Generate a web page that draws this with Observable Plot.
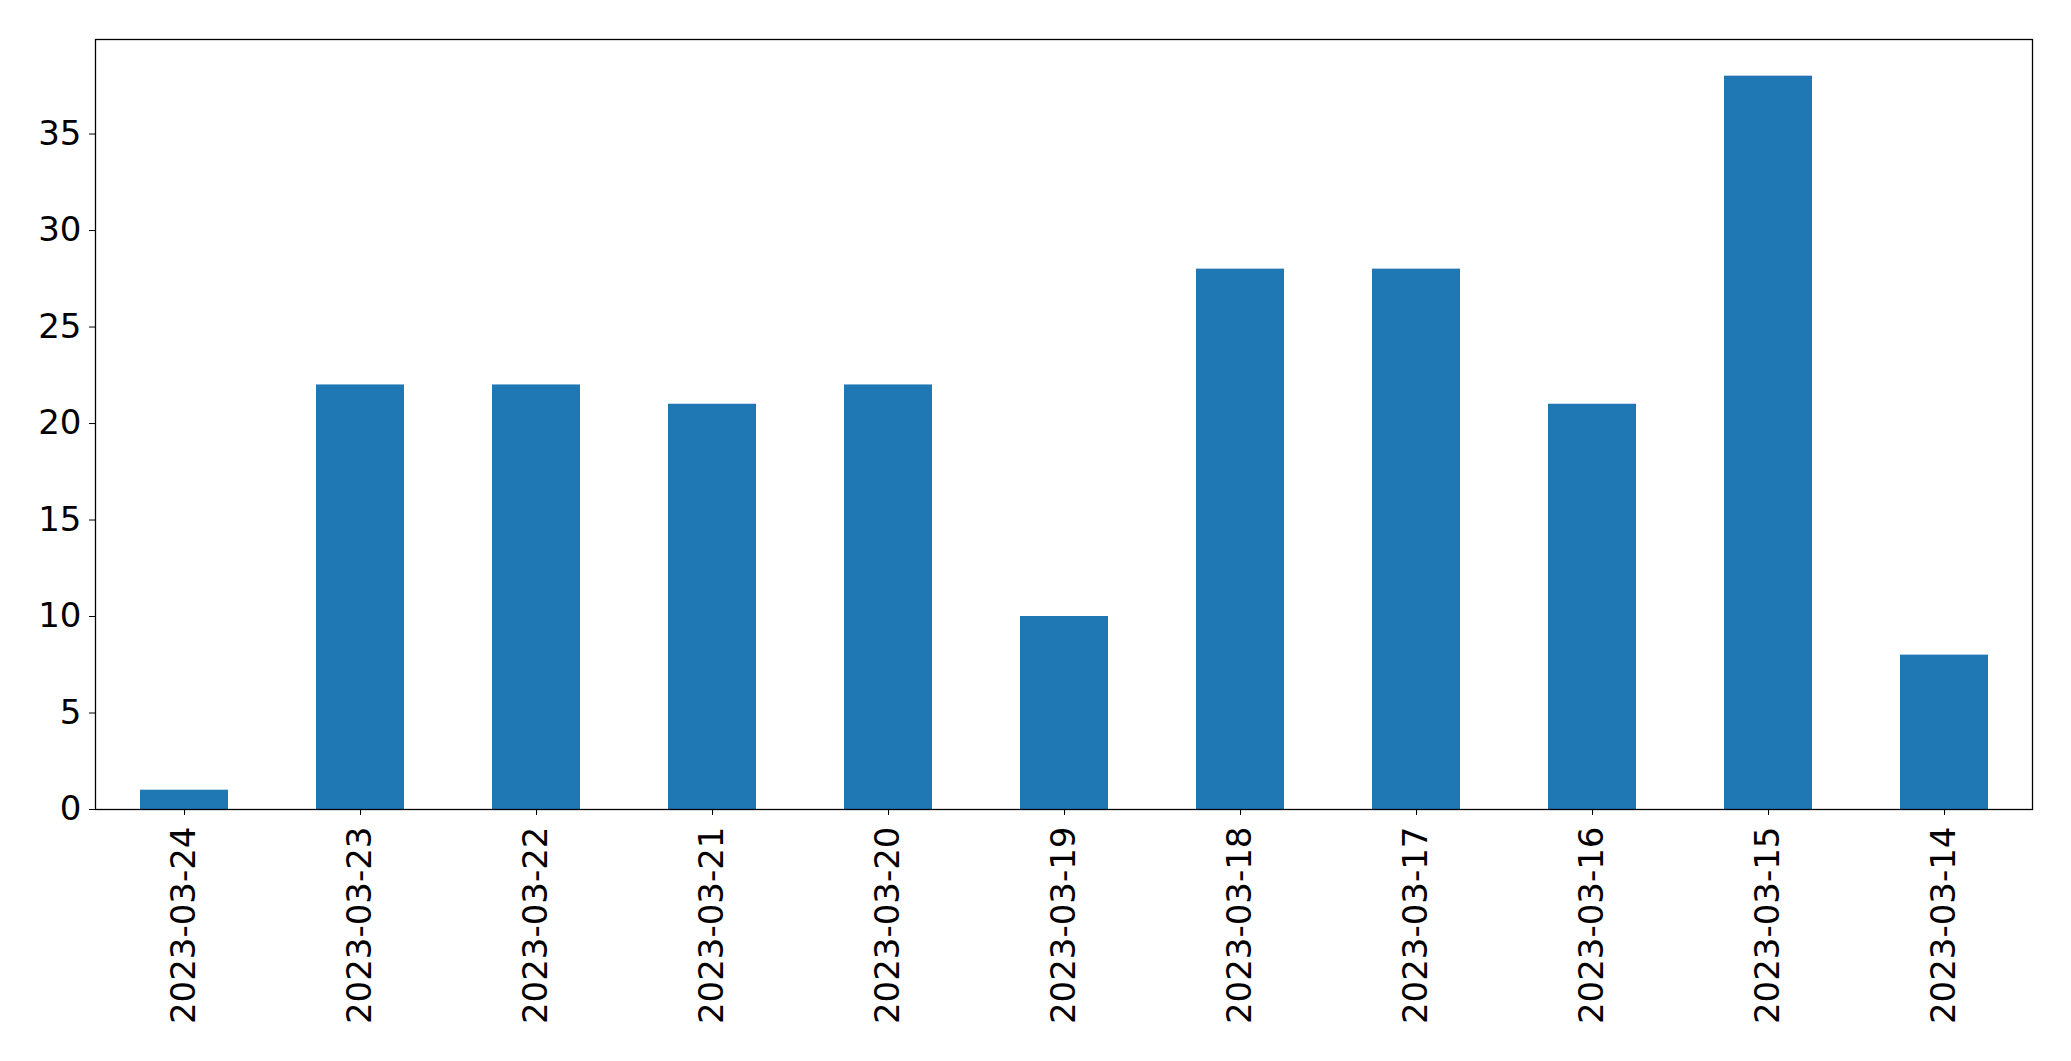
<!DOCTYPE html>
<html>
<head>
<meta charset="utf-8">
<script src="https://cdn.jsdelivr.net/npm/d3@7"></script>
<script src="https://cdn.jsdelivr.net/npm/@observablehq/plot@0.6"></script>
<style>
  html, body { margin: 0; padding: 0; background: #fff; }
  #chart svg { display: block; }
</style>
</head>
<body>
<div id="chart"></div>
<script>
const dates = ["2023-03-24", "2023-03-23", "2023-03-22", "2023-03-21", "2023-03-20", "2023-03-19", "2023-03-18", "2023-03-17", "2023-03-16", "2023-03-15", "2023-03-14"];
const counts = [1, 22, 22, 21, 22, 10, 28, 28, 21, 38, 8];
const yTicks = [0, 5, 10, 15, 20, 25, 30, 35];

const data = dates.map((d, i) => ({date: d, count: counts[i]}));

const chart = Plot.plot({
  width: 2071,
  height: 1061,
  marginLeft: 95,
  marginRight: 39,
  marginTop: 39,
  marginBottom: 252,
  style: {fontFamily: "DejaVu Sans", fontSize: "34px", color: "black", background: "white"},
  x: {domain: dates, paddingInner: 0.5, paddingOuter: 0.25, align: 0.5, label: null},
  y: {domain: [0, 39.9], label: null},
  marks: [
    Plot.barY(data, {x: "date", y: "count", fill: "#1f77b4"}),
    Plot.axisX({tickRotate: -90, tickSize: 6, tickPadding: 11, fontSize: 34, label: null}),
    Plot.axisY({ticks: yTicks, tickSize: 6, tickPadding: 8, fontSize: 34, label: null}),
    Plot.frame({stroke: "black", strokeWidth: 1.3})
  ]
});
document.getElementById("chart").appendChild(chart);
</script>
</body>
</html>
